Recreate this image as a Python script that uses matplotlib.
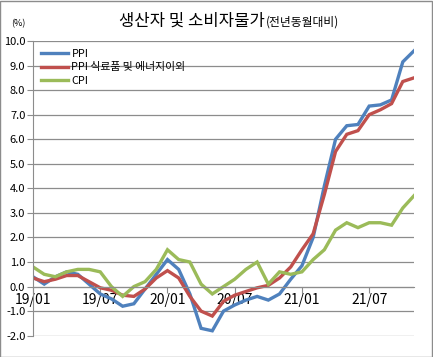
import matplotlib
matplotlib.use("Agg")
import matplotlib.pyplot as plt
from matplotlib.patches import Rectangle

plt.rcParams['font.family'] = ['Noto Sans CJK KR', 'DejaVu Sans']

months = ["19/01","19/02","19/03","19/04","19/05","19/06","19/07","19/08","19/09","19/10","19/11","19/12",
          "20/01","20/02","20/03","20/04","20/05","20/06","20/07","20/08","20/09","20/10","20/11","20/12",
          "21/01","21/02","21/03","21/04","21/05","21/06","21/07","21/08","21/09","21/10","21/11"]
ppi = [0.4, 0.1, 0.4, 0.6, 0.5, 0.1, -0.3, -0.5, -0.8, -0.7, -0.1, 0.5,
       1.1, 0.7, -0.3, -1.7, -1.8, -1.0, -0.75, -0.55, -0.4, -0.55, -0.3, 0.3,
       0.85, 2.0, 4.1, 6.0, 6.55, 6.6, 7.35, 7.4, 7.6, 9.15, 9.6]
ppi_core = [0.35, 0.2, 0.3, 0.45, 0.45, 0.2, -0.05, -0.15, -0.35, -0.4, -0.1, 0.35,
            0.65, 0.35, -0.4, -1.0, -1.2, -0.6, -0.35, -0.2, -0.05, 0.05, 0.35, 0.8,
            1.5, 2.15, 3.75, 5.5, 6.2, 6.35, 7.0, 7.2, 7.45, 8.35, 8.5]
cpi = [0.8, 0.5, 0.4, 0.6, 0.7, 0.7, 0.6, 0.0, -0.4, 0.0, 0.2, 0.7,
       1.5, 1.1, 1.0, 0.1, -0.3, 0.0, 0.3, 0.7, 1.0, 0.1, 0.6, 0.5,
       0.6, 1.1, 1.5, 2.3, 2.6, 2.4, 2.6, 2.6, 2.5, 3.2, 3.7]
series_names = ["PPI", "PPI 식료품 및 에너지이외", "CPI"]
colors = ["#4F81BD", "#C0504D", "#9BBB59"]
label_months = ["19/01", "19/07", "20/01", "20/07", "21/01", "21/07"]
yticks = [-2, -1, 0, 1, 2, 3, 4, 5, 6, 7, 8, 9, 10]

fig = plt.figure(figsize=(4.33, 3.57), dpi=100)
ax = fig.add_axes([33/433, 1-335.7/357, (414-33)/433, (335.7-41)/357])

x = list(range(len(months)))
for vals, name, c in zip([ppi, ppi_core, cpi], series_names, colors):
    ax.plot(x, vals, color=c, lw=2.4, label=name, solid_joinstyle='miter')

ax.set_xlim(0, len(months) - 1)
ax.set_ylim(-2, 10)
ax.set_yticks(yticks)
ax.set_yticklabels([f"{v:.1f}" for v in yticks], fontsize=8)
ax.yaxis.grid(True, color="#8c8c8c", lw=0.9)
ax.set_axisbelow(True)

pos = [months.index(m) for m in label_months]
ax.set_xticks(pos)
ax.set_xticklabels(label_months, fontsize=8)
ax.spines['bottom'].set_position(('data', 0))
ax.spines['bottom'].set_color("#8c8c8c")
ax.spines['left'].set_color("#8c8c8c")
ax.spines['top'].set_visible(False)
ax.spines['right'].set_visible(False)
ax.tick_params(axis='x', length=4, color="#8c8c8c", pad=0.5)
ax.tick_params(axis='y', length=4, color="#8c8c8c", pad=1.5)

leg = ax.legend(loc='upper left', frameon=False, fontsize=7.8, handlelength=2.5,
                handletextpad=0.35, labelspacing=0.35, borderaxespad=0.3,
                bbox_to_anchor=(0.0, 1.0))

fig.text(265/433, 1-26/357, "생산자 및 소비자물가", fontsize=12, ha='right', va='baseline')
fig.text(266/433, 1-26/357, "(전년동월대비)", fontsize=8.5, ha='left', va='baseline')
fig.text(18/433, 1-26/357, "(%)", fontsize=6.5, ha='center', va='baseline')

fig.patches.append(Rectangle((0.001, 0.001), 0.997, 0.997, transform=fig.transFigure,
                             fill=False, edgecolor="#8c8c8c", lw=1))

fig.savefig("out.png", dpi=100)
